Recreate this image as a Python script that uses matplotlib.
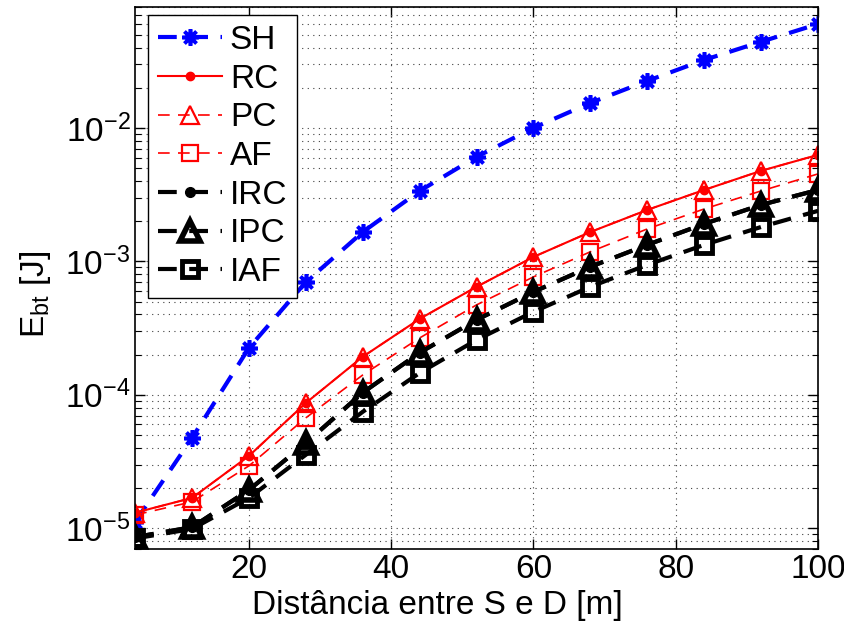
import numpy as np
import matplotlib
matplotlib.use("Agg")
import matplotlib.pyplot as plt
from matplotlib.ticker import LogLocator, NullFormatter

plt.rcParams['font.family'] = ['Liberation Sans', 'DejaVu Sans']
plt.rcParams['mathtext.fontset'] = 'custom'
plt.rcParams['mathtext.rm'] = 'Liberation Sans'
plt.rcParams['mathtext.it'] = 'Liberation Sans:italic'
plt.rcParams['mathtext.bf'] = 'Liberation Sans:bold'

distance = [4, 12, 20, 28, 36, 44, 52, 60, 68, 76, 84, 92, 100]

SH = [1.12e-5, 4.76e-5, 2.25e-4, 7.0e-4, 1.66e-3, 3.37e-3, 6.07e-3, 1.0e-2,
      1.54e-2, 2.25e-2, 3.23e-2, 4.42e-2, 6.0e-2]
RC = [1.31e-5, 1.69e-5, 3.49e-5, 8.7e-5, 1.93e-4, 3.71e-4, 6.45e-4, 1.08e-3,
      1.66e-3, 2.43e-3, 3.43e-3, 4.77e-3, 6.28e-3]
PC = [1.31e-5, 1.69e-5, 3.49e-5, 8.7e-5, 1.93e-4, 3.71e-4, 6.45e-4, 1.08e-3,
      1.66e-3, 2.43e-3, 3.43e-3, 4.77e-3, 6.28e-3]
AF = [1.26e-5, 1.58e-5, 2.94e-5, 6.73e-5, 1.41e-4, 2.67e-4, 4.72e-4, 7.65e-4,
      1.18e-3, 1.75e-3, 2.47e-3, 3.37e-3, 4.52e-3]
IRC = [8.6e-6, 1.02e-5, 1.94e-5, 4.36e-5, 1.04e-4, 2.07e-4, 3.65e-4, 5.91e-4,
       9.11e-4, 1.33e-3, 1.91e-3, 2.65e-3, 3.43e-3]
IPC = [8.6e-6, 1.02e-5, 1.94e-5, 4.36e-5, 1.04e-4, 2.07e-4, 3.65e-4, 5.91e-4,
       9.11e-4, 1.33e-3, 1.91e-3, 2.65e-3, 3.43e-3]
IAF = [8.4e-6, 9.9e-6, 1.69e-5, 3.56e-5, 7.47e-5, 1.46e-4, 2.58e-4, 4.19e-4,
       6.45e-4, 9.42e-4, 1.33e-3, 1.81e-3, 2.39e-3]

xticks = [20, 40, 60, 80, 100]

fig = plt.figure(figsize=(8.45, 6.25), dpi=100)
ax = fig.add_axes([0.16, 0.1216, 0.808, 0.8672])

dash_thick = (0, (4.5, 3))
dash_thin = (0, (7, 5))

ax.plot(distance, SH, color='blue', linestyle=dash_thick, linewidth=3,
        marker=(8, 2, 0), markersize=12, markeredgewidth=2.6, label='SH')
ax.plot(distance, RC, color='red', linestyle='-', linewidth=1.5,
        marker='o', markersize=6, markerfacecolor='red', label='RC')
ax.plot(distance, PC, color='red', linestyle=dash_thin, linewidth=1.2,
        marker='^', markersize=13, markerfacecolor='none', markeredgewidth=1.6, label='PC')
ax.plot(distance, AF, color='red', linestyle=dash_thin, linewidth=1.2,
        marker='s', markersize=11, markerfacecolor='none', markeredgewidth=1.6, label='AF')
ax.plot(distance, IRC, color='black', linestyle=dash_thick, linewidth=3,
        marker='o', markersize=7, markerfacecolor='black', label='IRC')
ax.plot(distance, IPC, color='black', linestyle=dash_thick, linewidth=3,
        marker='^', markersize=14, markerfacecolor='none', markeredgewidth=4, label='IPC')
ax.plot(distance, IAF, color='black', linestyle=dash_thick, linewidth=3,
        marker='s', markersize=12, markerfacecolor='none', markeredgewidth=3.5, label='IAF')

ax.set_yscale('log')
ax.set_xlim(4, 100)
ax.set_ylim(7.0e-6, 0.0805)
ax.set_xticks(xticks)
ax.yaxis.set_major_locator(LogLocator(base=10, numticks=10))
ax.yaxis.set_minor_locator(LogLocator(base=10, subs=np.arange(2, 10), numticks=100))
ax.yaxis.set_minor_formatter(NullFormatter())

ax.grid(True, which='major', axis='both', linestyle=(0, (1, 4)), color='#404040', linewidth=0.8)
ax.grid(True, which='minor', axis='y', linestyle=(0, (1, 4)), color='#404040', linewidth=0.8)

ax.tick_params(which='both', direction='in', top=True, right=True, labelsize=24)
ax.tick_params(which='major', length=7, width=1)
ax.tick_params(which='minor', length=4, width=0.8)
for s in ax.spines.values():
    s.set_linewidth(1.2)

ax.set_xlabel('Distância entre S e D [m]', fontsize=24, labelpad=3)
ax.xaxis.set_label_coords(0.442, -0.075)
ax.set_ylabel(r'E$_{\mathrm{bt}}$ [J]', fontsize=24, labelpad=2)
ax.yaxis.set_label_coords(-0.12, 0.47)

leg = ax.legend(loc='upper left', fontsize=24, handlelength=1.9, handletextpad=0.25,
                labelspacing=0.23, borderpad=0.3, borderaxespad=0, fancybox=False,
                framealpha=1, edgecolor='black', bbox_to_anchor=(0.019, 0.985))
leg.get_frame().set_linewidth(1.0)

fig.savefig('out.png', dpi=100)
